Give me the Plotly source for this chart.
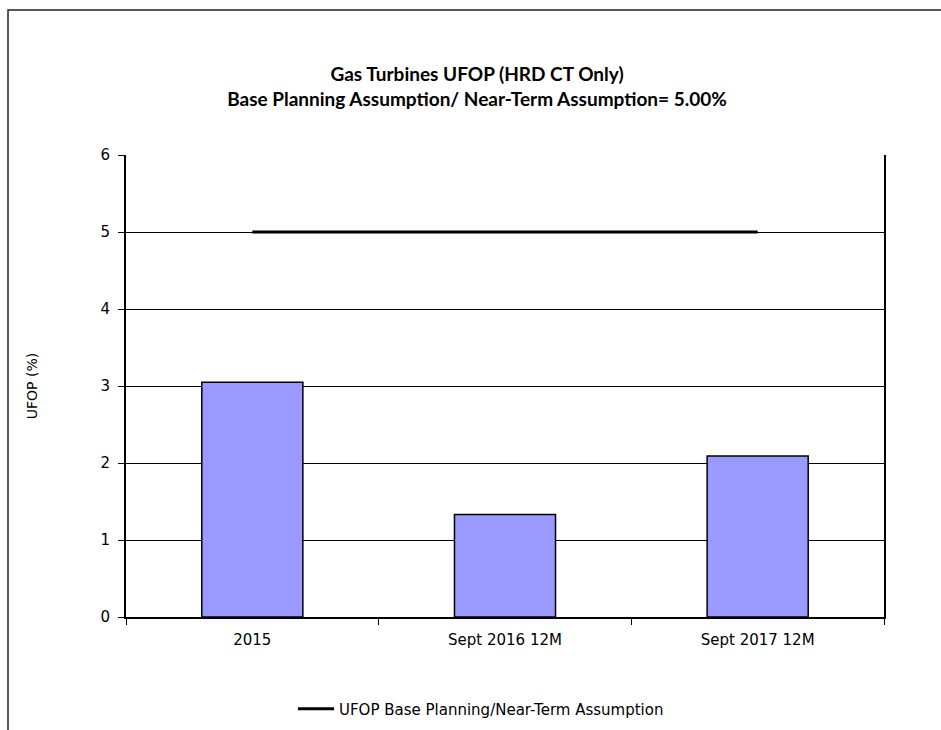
import plotly.graph_objects as go

categories = ["2015", "Sept 2016 12M", "Sept 2017 12M"]
ufop_values = [3.05, 1.33, 2.09]
assumption_values = [5.0, 5.0, 5.0]
y_ticks = [0, 1, 2, 3, 4, 5, 6]

tick_font = dict(family="DejaVu Sans", size=15, color="#000000")

fig = go.Figure()

fig.add_trace(go.Bar(
    x=categories,
    y=ufop_values,
    marker=dict(color="#9999FF", line=dict(color="#000000", width=1.5)),
    width=0.4,
    showlegend=False,
    hoverinfo="x+y",
))

fig.add_trace(go.Scatter(
    x=categories,
    y=assumption_values,
    mode="lines",
    line=dict(color="#000000", width=3),
    name="UFOP Base Planning/Near-Term Assumption",
))

fig.update_layout(
    width=941,
    height=730,
    margin=dict(l=126, r=57, t=155, b=113, autoexpand=False),
    paper_bgcolor="#FFFFFF",
    plot_bgcolor="#FFFFFF",
    title=dict(
        text="Gas Turbines UFOP (HRD CT Only)<br>Base Planning Assumption/ Near-Term Assumption= 5.00%",
        font=dict(family="Lato", size=19, color="#000000", weight="bold"),
        x=(477) / 941,
        xanchor="center",
        y=1 - 81 / 730,
        yanchor="middle",
    ),
    legend=dict(
        orientation="h",
        x=(481 - 126) / 758,
        xanchor="center",
        y=-(709 - 617) / 462,
        yanchor="middle",
        font=tick_font,
        itemwidth=36,
    ),
    bargap=0.6,
    shapes=[
        dict(
            type="rect", xref="paper", yref="paper",
            x0=-118 / 758, x1=1.2, y0=-0.4, y1=1 + 145 / 462,
            line=dict(color="#222222", width=1.5),
            fillcolor="rgba(0,0,0,0)",
            layer="below",
        )
    ],
)

fig.update_xaxes(
    type="category",
    tickson="boundaries",
    ticks="outside",
    ticklen=6,
    tickcolor="#000000",
    showline=True,
    linecolor="#000000",
    linewidth=2,
    showgrid=False,
    tickfont=tick_font,
    ticklabelstandoff=8,
)

fig.update_yaxes(
    range=[0, 6],
    tickvals=y_ticks,
    ticks="outside",
    ticklen=6,
    tickcolor="#000000",
    showline=True,
    linecolor="#000000",
    linewidth=2,
    mirror=True,
    showgrid=True,
    gridcolor="#000000",
    gridwidth=1,
    zeroline=False,
    tickfont=tick_font,
    ticklabelstandoff=5,
    title=dict(text="UFOP (%)", font=dict(family="DejaVu Sans", size=14, color="#000000"), standoff=60),
)

fig.write_html("out.html")
